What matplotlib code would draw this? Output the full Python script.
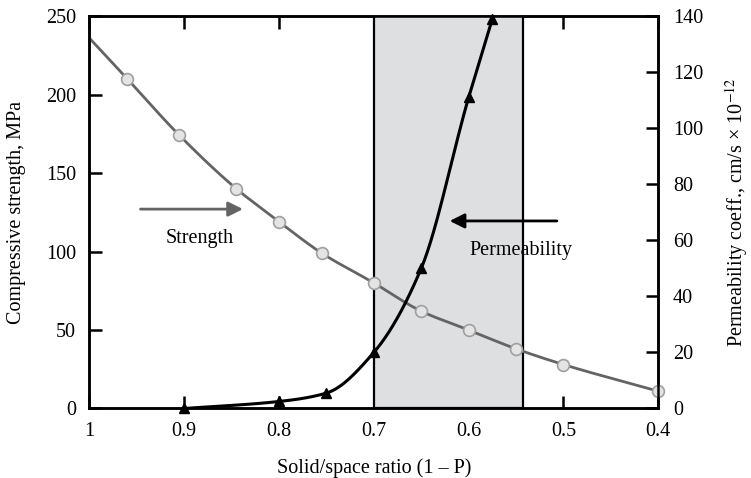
import numpy as np
import matplotlib
matplotlib.use("Agg")
import matplotlib.pyplot as plt

plt.rcParams['font.family'] = ['Liberation Serif', 'DejaVu Serif']
plt.rcParams['mathtext.fontset'] = 'stix'

# compressive strength (left axis, MPa)
ratio_strength = [1.0, 0.96, 0.905, 0.845, 0.80, 0.755, 0.70, 0.65, 0.60, 0.55, 0.50, 0.40]
strength = [236, 210, 174, 140, 119, 99, 80, 62, 50, 38, 28, 11]

# permeability coefficient (right axis, cm/s x 1e-12)
ratio_perm = [0.90, 0.80, 0.75, 0.70, 0.65, 0.60, 0.575]
perm = [0, 2.5, 5.5, 20, 50, 111, 139]

xticks = [1, 0.9, 0.8, 0.7, 0.6, 0.5, 0.4]
xticklabels = ['1', '0.9', '0.8', '0.7', '0.6', '0.5', '0.4']
yticks_left = [0, 50, 100, 150, 200, 250]
yticks_right = [0, 20, 40, 60, 80, 100, 120, 140]
band = (0.70, 0.543)

FS = 14.5


def pchip(x, y, xn):
    # monotone cubic hermite, only used to draw a smooth line through the points
    x = np.asarray(x, float)
    y = np.asarray(y, float)
    o = np.argsort(x)
    x, y = x[o], y[o]
    h = np.diff(x)
    d = np.diff(y) / h
    m = np.zeros_like(x)
    m[0], m[-1] = d[0], d[-1]
    for k in range(1, len(x) - 1):
        if d[k - 1] * d[k] > 0:
            w1 = 2 * h[k] + h[k - 1]
            w2 = h[k] + 2 * h[k - 1]
            m[k] = (w1 + w2) / (w1 / d[k - 1] + w2 / d[k])
    i = np.clip(np.searchsorted(x, xn) - 1, 0, len(x) - 2)
    t = (xn - x[i]) / h[i]
    h00 = 2 * t**3 - 3 * t**2 + 1
    h10 = t**3 - 2 * t**2 + t
    h01 = -2 * t**3 + 3 * t**2
    h11 = t**3 - t**2
    return h00 * y[i] + h10 * h[i] * m[i] + h01 * y[i + 1] + h11 * h[i] * m[i + 1]


fig = plt.figure(figsize=(7.51, 4.78), dpi=100)
ax = fig.add_axes([0.1189, 0.1454, 0.8766 - 0.1189, 0.9665 - 0.1454])
ax2 = ax.twinx()

ax.set_xlim(1, 0.4)
ax.set_ylim(0, 250)
ax2.set_ylim(0, 140)

ax.axvspan(band[1], band[0], facecolor='#dedfe1', edgecolor='black', lw=1.6, zorder=2.6)

xs = np.linspace(min(ratio_strength), max(ratio_strength), 300)
ax.plot(xs, pchip(ratio_strength, strength, xs), color='#646464', lw=2, zorder=3)
ax.plot(ratio_strength[1:], strength[1:], 'o', ms=8.5, mfc='#e4e4e4', mec='#a0a0a0',
        mew=1.2, zorder=4, clip_on=False)

xp = np.linspace(min(ratio_perm), max(ratio_perm), 300)
ax2.plot(xp, pchip(ratio_perm, perm, xp), color='black', lw=2.2, zorder=3)
ax2.plot(ratio_perm, perm, '^', ms=7, color='black', zorder=4, clip_on=False)

ax.annotate('', xy=(0.838, 127), xytext=(0.946, 127),
            arrowprops=dict(arrowstyle='-|>', color='#646464', lw=2,
                            mutation_scale=22, shrinkA=0, shrinkB=0), zorder=5)
ax.text(0.884, 108, 'Strength', fontsize=FS, ha='center', va='center', zorder=5)
ax2.annotate('', xy=(0.620, 66.9), xytext=(0.507, 66.9),
             arrowprops=dict(arrowstyle='-|>', color='black', lw=2,
                             mutation_scale=22, shrinkA=0, shrinkB=0), zorder=5)
ax2.text(0.5446, 56.3, 'Permeability', fontsize=FS, ha='center', va='center', zorder=5)

ax.set_xticks(xticks)
ax.set_xticklabels(xticklabels)
ax.set_yticks(yticks_left)
ax2.set_yticks(yticks_right)

ax.tick_params(axis='x', direction='in', top=True, length=9, width=1.8,
               labelsize=FS, pad=9.5)
ax.tick_params(axis='y', direction='in', length=9, width=1.8, labelsize=FS, pad=9.5)
ax2.tick_params(axis='y', direction='in', length=9, width=1.8, labelsize=FS, pad=10.5)

for a in (ax, ax2):
    for s in a.spines.values():
        s.set_linewidth(1.8)

ax.set_xlabel('Solid/space ratio (1 \u2013 P)', fontsize=FS)
ax.set_ylabel('Compressive strength, MPa', fontsize=FS)
ax2.set_ylabel('Permeability coeff., cm/s \u00d7 10$^{-12}$', fontsize=FS)
ax.xaxis.set_label_coords(0.5, -0.128)
ax.yaxis.set_label_coords(-0.112, 0.5)
ax2.yaxis.set_label_coords(1.113, 0.5)

fig.savefig('out.png', dpi=100)
